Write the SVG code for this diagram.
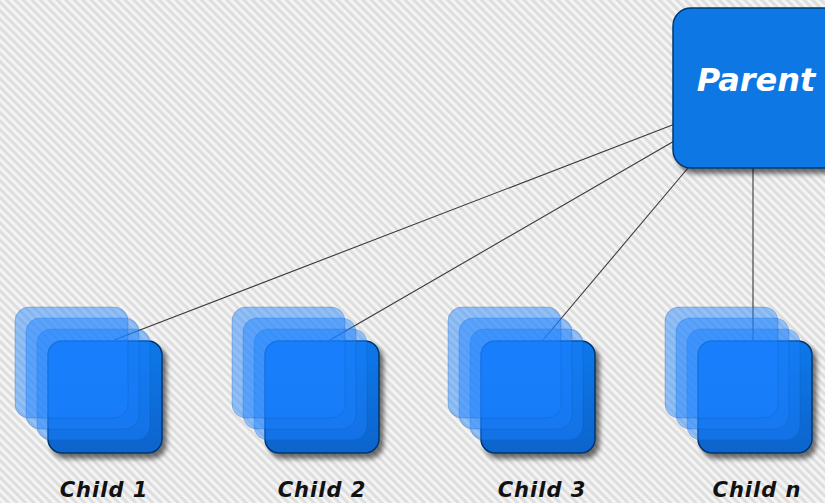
<svg xmlns="http://www.w3.org/2000/svg" width="825" height="503" viewBox="0 0 825 503">
<defs>
<pattern id="bg" width="6" height="6" patternUnits="userSpaceOnUse" patternTransform="rotate(-45)">
<rect width="6" height="6" fill="#dedede"/>
<rect width="3" height="6" fill="#f4f4f4"/>
</pattern>
<filter id="sh" x="-20%" y="-20%" width="150%" height="150%">
<feGaussianBlur in="SourceAlpha" stdDeviation="2.5"/>
<feOffset dx="4" dy="5" result="b"/>
<feComponentTransfer><feFuncA type="linear" slope="0.55"/></feComponentTransfer>
<feMerge><feMergeNode/><feMergeNode in="SourceGraphic"/></feMerge>
</filter>
<linearGradient id="front" x1="0" y1="0" x2="0" y2="1">
<stop offset="0" stop-color="#0a78ea"/>
<stop offset="1" stop-color="#0864cc"/>
</linearGradient>
<g id="stack">
<rect class="fr" x="33" y="34" width="114" height="112" rx="14" filter="url(#sh)"/>
<rect class="tl" x="22" y="22" width="113" height="111" rx="14"/>
<rect class="tl" x="11" y="11" width="113" height="111" rx="14"/>
<rect class="tl" x="0" y="0" width="113" height="111" rx="14"/>
</g>
</defs>
<style>
.tl{fill:#1a80ff;fill-opacity:0.45;stroke:#0a4fa8;stroke-opacity:0.25;stroke-width:1}
.fr{fill:url(#front);stroke:#02356e;stroke-width:1.5}
.lbl{font-family:"DejaVu Sans","Liberation Sans",sans-serif;font-size:21px;font-weight:bold;font-style:italic;fill:#111;text-anchor:middle;letter-spacing:1px}
.conn line{stroke:#3a3a3a;stroke-width:1.1}
</style>
<rect width="825" height="503" fill="url(#bg)"/>
<g id="connectors" class="conn">
<line x1="675" y1="124" x2="114" y2="340"/>
<line x1="676" y1="140" x2="330" y2="340"/>
<line x1="688" y1="168" x2="543" y2="340"/>
<line x1="753" y1="168" x2="753" y2="340"/>
</g>
<g id="parent">
<rect x="673" y="8" width="170" height="160" rx="18" fill="#0b78e3" stroke="#03386f" stroke-width="1.5" filter="url(#sh)"/>
<text x="756" y="91" font-family="DejaVu Sans,'Liberation Sans',sans-serif" font-size="32" font-weight="bold" font-style="italic" fill="#ffffff" text-anchor="middle">Parent</text>
</g>
<g id="child1">
<use href="#stack" x="15" y="307"/>
<text class="lbl" x="104" y="497">Child 1</text>
</g>
<g id="child2">
<use href="#stack" x="232" y="307"/>
<text class="lbl" x="322" y="497">Child 2</text>
</g>
<g id="child3">
<use href="#stack" x="448" y="307"/>
<text class="lbl" x="542" y="497">Child 3</text>
</g>
<g id="childn">
<use href="#stack" x="665" y="307"/>
<text class="lbl" x="757" y="497">Child n</text>
</g>
</svg>
